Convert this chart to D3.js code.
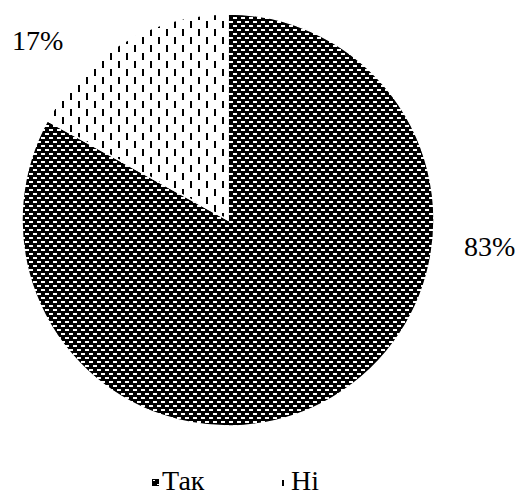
<!DOCTYPE html>
<html><head><meta charset="utf-8">
<script src="https://cdn.jsdelivr.net/npm/d3@7"></script>
<style>html,body{margin:0;padding:0;background:#fff;}svg{display:block;}</style>
</head><body>
<svg id="c" width="521" height="499" style="font-family:'Liberation Serif',serif"></svg>
<script>
const categories = ["Так", "Ні"];
const values = [83, 17];
const labels = ["83%", "17%"];

const svg = d3.select("#c");
const defs = svg.append("defs");

function darkPattern(id, ox, oy, w, h) {
  const p = defs.append("pattern").attr("id", id).attr("patternUnits","userSpaceOnUse")
    .attr("x", ox).attr("y", oy).attr("width",8).attr("height",8);
  p.append("rect").attr("width",8).attr("height",8).attr("fill","#000");
  p.append("rect").attr("x",1).attr("y",1).attr("width",w).attr("height",h).attr("fill","#fff");
  p.append("rect").attr("x",5).attr("y",5).attr("width",w).attr("height",h).attr("fill","#fff");
  p.append("rect").attr("x",-3).attr("y",5).attr("width",w).attr("height",h).attr("fill","#fff");
}
function dashPattern(id, ox, oy) {
  const p = defs.append("pattern").attr("id", id).attr("patternUnits","userSpaceOnUse")
    .attr("x", ox).attr("y", oy).attr("width",16).attr("height",16);
  p.append("rect").attr("width",16).attr("height",16).attr("fill","#fff");
  p.append("rect").attr("x",2).attr("y",1).attr("width",2).attr("height",7).attr("fill","#000");
  p.append("rect").attr("x",10).attr("y",9).attr("width",2).attr("height",7).attr("fill","#000");
}
darkPattern("pDark", 0, 0, 4, 2);
dashPattern("pDash", 0, 0);

const fills = ["url(#pDark)", "url(#pDash)"];

const cx = 228, cy = 220, r = 206;
const pie = d3.pie().sort(null).value(d => d)(values);
const arc = d3.arc().innerRadius(0).outerRadius(r);

const g = svg.append("g").attr("transform", `translate(${cx},${cy})`);
g.selectAll("path").data(pie).join("path")
  .attr("d", arc)
  .attr("fill", (d,i) => fills[i])
  .attr("stroke", "#fff").attr("stroke-width", 1.5);

const FONT = "Liberation Serif";
const labelPos = [[236, 36], [-216, -170]];
g.selectAll("text.lbl").data(pie).join("text").attr("class","lbl")
  .attr("x", (d,i) => labelPos[i][0]).attr("y", (d,i) => labelPos[i][1])
  .style("font-family", FONT).style("font-size", "28px").attr("fill", "#000")
  .text((d,i) => labels[i]);

// legend
const legX = [152, 281];
const leg = svg.append("g");
darkPattern("lgDark", legX[0], 479, 2, 1);
dashPattern("lgDash", legX[1] - 1, 479);
const legFills = ["url(#lgDark)", "url(#lgDash)"];
categories.forEach((c, i) => {
  leg.append("rect").attr("x", legX[i]).attr("y", 479).attr("width", 7).attr("height", 7)
    .attr("fill", legFills[i]);
  leg.append("text").attr("x", legX[i] + 10).attr("y", 490)
    .style("font-family", FONT).style("font-size", "28px").attr("fill", "#000").text(c);
});
</script>
</body></html>
